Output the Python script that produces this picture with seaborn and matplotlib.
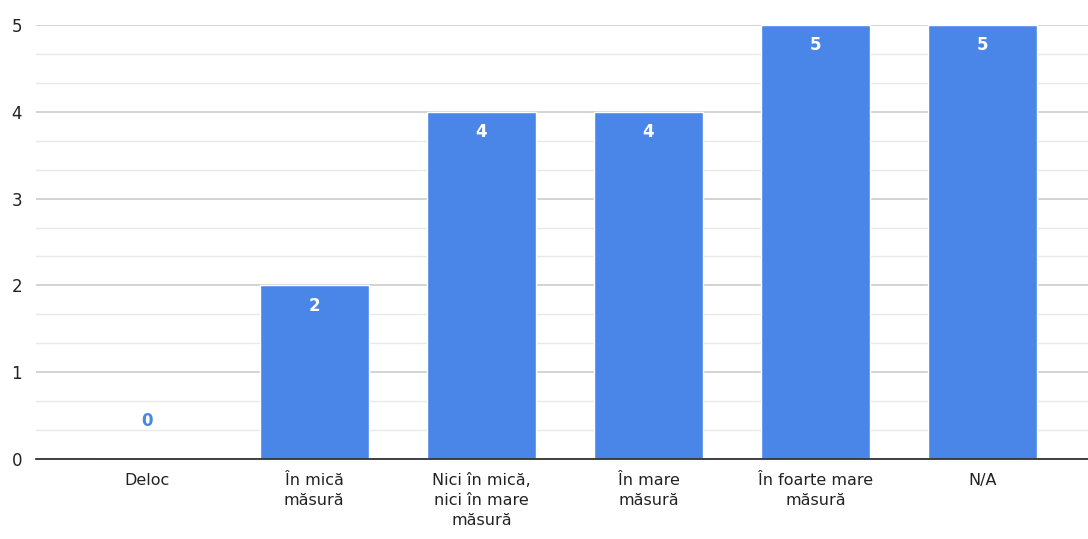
import matplotlib
matplotlib.use('Agg')
import matplotlib.pyplot as plt
import seaborn as sns
import pandas as pd
from matplotlib.ticker import MultipleLocator

categories = ['Deloc', 'În mică\nmăsură', 'Nici în mică,\nnici în mare\nmăsură',
              'În mare\nmăsură', 'În foarte mare\nmăsură', 'N/A']
counts = [0, 2, 4, 4, 5, 5]

bar_color = '#4a86e8'

sns.set_style('white')
plt.rcParams['font.family'] = ['DejaVu Sans']

df = pd.DataFrame({'cat': categories, 'count': counts})

fig = plt.figure(figsize=(10.88, 5.39), dpi=100)
ax = fig.add_axes([0.0331, 0.1484, 0.9669, 0.8052])

sns.barplot(data=df, x='cat', y='count', color=bar_color, saturation=1,
            width=0.65, ax=ax, zorder=3)

ax.set_ylim(0, 5)
ax.set_xlim(-0.665, 5.63)
ax.yaxis.set_major_locator(MultipleLocator(1))
ax.yaxis.set_minor_locator(MultipleLocator(1 / 3))
ax.grid(which='major', axis='y', color='#cccccc', linewidth=1.2, zorder=0)
ax.grid(which='minor', axis='y', color='#e8e8e8', linewidth=1.0, zorder=0)
ax.set_axisbelow(True)

for s in ['top', 'right', 'left']:
    ax.spines[s].set_visible(False)
ax.spines['bottom'].set_color('#333333')
ax.spines['bottom'].set_linewidth(1.3)
ax.spines['bottom'].set_zorder(4)

ax.set_xticks(range(len(categories)), categories, linespacing=1.4)
ax.tick_params(axis='both', which='both', length=0, colors='#222222')
ax.tick_params(axis='y', labelsize=12, pad=10)
ax.tick_params(axis='x', labelsize=11.5, pad=10)
ax.set_xlabel('')
ax.set_ylabel('')

for i, v in enumerate(counts):
    if v > 0:
        ax.annotate(str(v), (i, v), xytext=(0, -8), textcoords='offset points',
                    ha='center', va='top', color='white', fontsize=12,
                    fontweight='bold', zorder=5)
    else:
        ax.annotate(str(v), (i, v), xytext=(0, 21), textcoords='offset points',
                    ha='center', va='bottom', color=bar_color, fontsize=12,
                    fontweight='bold', zorder=5)

fig.savefig('out.png', dpi=100)
